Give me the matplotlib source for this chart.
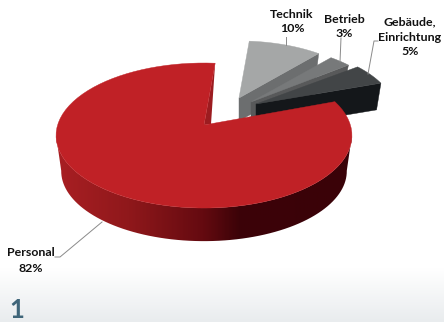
import matplotlib
matplotlib.use('Agg')
import matplotlib.pyplot as plt
from matplotlib.colors import LinearSegmentedColormap
from matplotlib.patches import Polygon
import numpy as np

names = ['Technik', 'Betrieb', 'Gebäude,\nEinrichtung']
shares = [10, 3, 5]
main_name = 'Personal'
main_share = 82
panel_number = '1'

# perspective of the disc, in pixels
K = 0.145
RX = 146.4
RY = 71.0
CX, CY = 204.0, 125.0
DEPTH = 36.0
SHRINK = 0.965

plt.rcParams['font.family'] = ['Lato', 'DejaVu Sans']


def rim(theta, apex=(CX, CY), scale=1.0):
    t = np.radians(theta)
    w = 1 + K*np.sin(t)
    return np.column_stack((apex[0] + scale*RX*np.cos(t)/w,
                            apex[1] - scale*RY*np.sin(t)/w))


def arc(a0, a1, apex=(CX, CY), scale=1.0):
    return rim(np.linspace(a0, a1, 80), apex, scale)


fig = plt.figure(figsize=(4.44, 3.22), dpi=100)
ax = fig.add_axes([0, 0, 1, 1])
ax.set_xlim(0, 444)
ax.set_ylim(322, 0)
ax.axis('off')

# pale band along the bottom edge
band = LinearSegmentedColormap.from_list('band', ['#ffffff', '#e9ecee'])
ax.imshow(np.linspace(0, 1, 60).reshape(-1, 1), cmap=band, extent=(0, 444, 322, 268),
          aspect='auto', zorder=0)

# the three pulled out slices, back to front
apexes = [(239, 98), (251, 102), (256, 104)]
scales = [0.92, 0.92, 0.945]
starts = [85, 48.8, 37]
depths = [23, 16, 26]
top_colors = ['#a5a7a7', '#77797a', '#424547']
side_colors = ['#6c6e6f', '#58595a', '#14171a']

for i in range(3):
    end = starts[i] - shares[i]*3.6
    edge = arc(starts[i], end, apexes[i], scales[i])
    base = arc(starts[i], end, (apexes[i][0], apexes[i][1] + depths[i]), scales[i]*SHRINK)
    a = np.array(apexes[i], dtype=float)
    # wall along the front cut
    wall = np.array([a, edge[-1], base[-1], (a[0], a[1] + depths[i])])
    ax.add_patch(Polygon(wall, fc=side_colors[i], ec=side_colors[i], lw=0.3, zorder=2+i))
    ax.add_patch(Polygon(np.vstack((a, edge)), fc=top_colors[i], ec=top_colors[i], lw=0.3, zorder=2+i))

# big slice: shaded outer wall, then the flat top
gap_start = 85
gap_end = gap_start + main_share*3.6
upper = arc(188, 352)
lower = arc(352, 188, (CX, CY + DEPTH), SHRINK)
side = Polygon(np.vstack((upper, lower)), fc='none', ec='none', zorder=6)
ax.add_patch(side)
wall_cmap = LinearSegmentedColormap.from_list('wall', [(0, '#a91f23'), (0.25, '#8f181b'),
                                                       (0.5, '#640a10'), (0.62, '#3c0308'),
                                                       (1, '#3a0208')])
grad = ax.imshow(np.linspace(0, 1, 300).reshape(1, -1), cmap=wall_cmap,
                 extent=(55, 351, 250, 100), aspect='auto', zorder=6)
grad.set_clip_path(side)

a = np.array([CX, CY])
tip = rim(np.array([gap_start]))[0]
ax.add_patch(Polygon([tip, a, a + (7, -1)], fc='#9c1c20', ec='none', zorder=6))
top = np.vstack((a, arc(gap_start, gap_end)))
ax.add_patch(Polygon(top, fc='#c02126', ec='#c02126', lw=0.3, zorder=7))

# reset limits, imshow changes them
ax.set_xlim(0, 444)
ax.set_ylim(322, 0)

# leader lines
leaders = [([286, 286], [37, 45]),
           ([341, 340], [38, 62]),
           ([378, 374, 368], [41, 41, 74]),
           ([55, 60, 102], [257, 257, 222])]
for lx, ly in leaders:
    ax.plot(lx, ly, color='#8a8a8a', lw=0.7, zorder=8)

# labels
text_style = dict(ha='center', va='center', fontsize=8.9, color='#111111', fontweight='bold', zorder=9)
ax.text(292, 14, names[0], **text_style)
ax.text(292, 28, '%d%%' % shares[0], **text_style)
ax.text(344, 19, names[1], **text_style)
ax.text(344, 33, '%d%%' % shares[1], **text_style)
first, second = names[2].split('\n')
ax.text(410, 22, first, **text_style)
ax.text(410, 37, second, **text_style)
ax.text(410, 51, '%d%%' % shares[2], **text_style)
ax.text(31, 253, main_name, **text_style)
ax.text(31, 268, '%d%%' % main_share, **text_style)

ax.text(17, 310, panel_number, ha='center', va='center', fontsize=18.5, color='#3f6579',
        fontweight='bold', zorder=9)

fig.savefig('out.png', dpi=100)
